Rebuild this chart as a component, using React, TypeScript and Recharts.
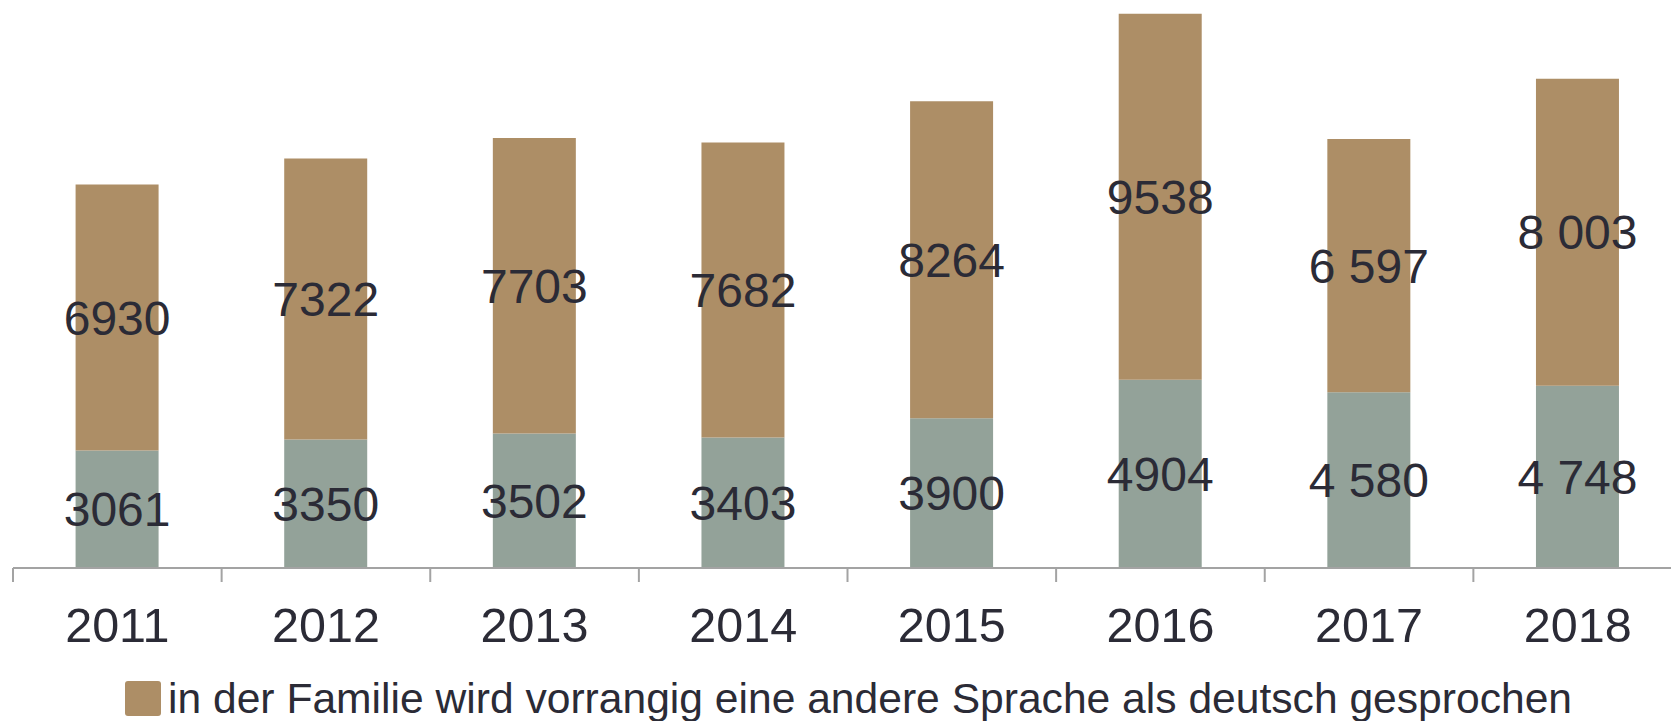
import React from "react";
import { BarChart, Bar, XAxis, YAxis, LabelList } from "recharts";

const years = ["2011", "2012", "2013", "2014", "2015", "2016", "2017", "2018"];
const germanValues = [3061, 3350, 3502, 3403, 3900, 4904, 4580, 4748];
const otherValues = [6930, 7322, 7703, 7682, 8264, 9538, 6597, 8003];
const germanLabels = ["3061", "3350", "3502", "3403", "3900", "4904", "4 580", "4 748"];
const otherLabels = ["6930", "7322", "7703", "7682", "8264", "9538", "6 597", "8 003"];
const legendText = "in der Familie wird vorrangig eine andere Sprache als deutsch gesprochen";

const data = years.map((y, i) => ({
  year: y,
  german: germanValues[i],
  other: otherValues[i],
  germanLabel: germanLabels[i],
  otherLabel: otherLabels[i],
}));

const BROWN = "#AD8E66";
const GREEN = "#93A299";
const TEXT = "#2B2B36";
const AXIS = "#A3A3A3";
const FONT = "'Liberation Sans', Arial, sans-serif";

const CHART_W = 1682;
const CHART_H = 721;
const MARGIN_LEFT = 13;
const BAND = (CHART_W - MARGIN_LEFT) / years.length;

const YearTick = (props: any) => {
  const { x, y, payload } = props;
  const bx = x - BAND / 2;
  return (
    <g>
      <line x1={bx} y1={y} x2={bx} y2={y + 14} stroke={AXIS} strokeWidth={2} />
      <text
        x={x}
        y={y + 74}
        textAnchor="middle"
        fill={TEXT}
        fontSize={48.5}
        fontFamily={FONT}
      >
        {payload.value}
      </text>
    </g>
  );
};

export default function App() {
  return (
    <div
      style={{
        position: "absolute",
        left: 0,
        top: 0,
        width: 1671,
        height: 721,
        overflow: "hidden",
        background: "#fff",
      }}
    >
      <BarChart
        width={CHART_W}
        height={CHART_H}
        data={data}
        margin={{ top: 0, right: 0, bottom: 73, left: MARGIN_LEFT }}
        barCategoryGap="30%"
      >
        <XAxis
          dataKey="year"
          axisLine={{ stroke: AXIS, strokeWidth: 2 }}
          tickLine={false}
          tickSize={0}
          tickMargin={0}
          tick={<YearTick />}
          interval={0}
          height={80}
        />
        <YAxis hide domain={[0, 14800]} />
        <Bar dataKey="german" stackId="a" fill={GREEN} isAnimationActive={false}>
          <LabelList
            dataKey="germanLabel"
            position="center"
            fill={TEXT}
            fontSize={48}
            fontFamily={FONT}
          />
        </Bar>
        <Bar dataKey="other" stackId="a" fill={BROWN} isAnimationActive={false}>
          <LabelList
            dataKey="otherLabel"
            position="center"
            fill={TEXT}
            fontSize={48}
            fontFamily={FONT}
          />
        </Bar>
      </BarChart>
      <div
        style={{
          position: "absolute",
          left: 125,
          top: 677,
          display: "flex",
          alignItems: "center",
          fontFamily: FONT,
          fontSize: 42.6,
          color: TEXT,
          whiteSpace: "nowrap",
          lineHeight: "42px",
        }}
      >
        <span
          style={{
            display: "inline-block",
            width: 36,
            height: 35,
            background: BROWN,
            borderRadius: 3,
            marginRight: 7,
          }}
        />
        <span>{legendText}</span>
      </div>
    </div>
  );
}
